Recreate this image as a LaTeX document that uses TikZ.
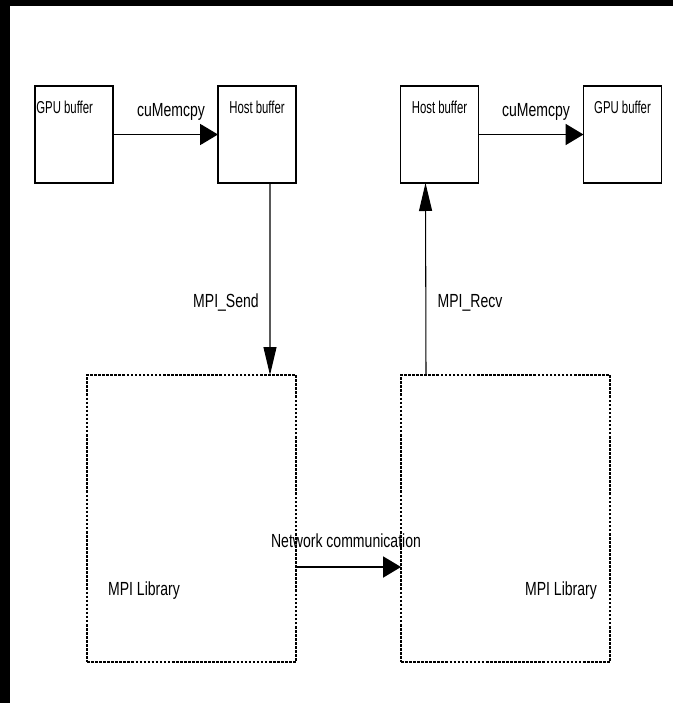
\documentclass[tikz,border=0pt]{standalone}
\usepackage{fontspec}
\setmainfont{Liberation Sans}
\newfontfamily\labelfont[FakeStretch=0.74]{Liberation Sans}
\newfontfamily\buffont[FakeStretch=0.66]{Liberation Sans}
\usetikzlibrary{arrows.meta,positioning}

\begin{document}
\begin{tikzpicture}[
  buffer/.style={draw, line width=0.8pt, minimum width=1.56cm, minimum height=1.94cm, inner sep=0pt, outer sep=0pt},
  library/.style={draw, line width=0.7pt, dash pattern=on 1.5pt off 0.8pt, minimum width=4.18cm, minimum height=5.74cm, inner sep=0pt, outer sep=0pt},
  buftext/.style={font=\buffont\fontsize{9.8}{11}\selectfont, inner sep=0pt},
  steplabel/.style={font=\labelfont\fontsize{10.8}{13}\selectfont, inner sep=0pt},
  harrow/.style={-{Triangle[length=0.36cm,width=0.42cm]}, line width=1.1pt},
  varrow/.style={-{Triangle[length=0.56cm,width=0.26cm]}, line width=0.6pt}
]
  % page with the dark frame on top and left
  \fill[black] (0,0) rectangle (13.46,-14.06);
  \fill[white] (0.2,-0.12) rectangle (13.46,-14.06);

  % sending side
  \node[buffer] (gpuA) at (1.48,-2.69) {};
  \node[buffer, right=2.1cm of gpuA] (hostA) {};
  \node[buftext, below right=0.3cm and 0.02cm of gpuA.north west] (gpuAtext) {GPU buffer};
  \node[buftext, below=0.3cm of hostA.north] (hostAtext) {Host buffer};
  \node[library] (libA) at (3.83,-10.37) {};
  \node[steplabel] (libAtext) at (2.88,-11.82) {MPI Library};

  % receiving side
  \node[buffer] (hostB) at (8.79,-2.69) {};
  \node[buffer, right=2.1cm of hostB] (gpuB) {};
  \node[buftext, below=0.3cm of hostB.north] (hostBtext) {Host buffer};
  \node[buftext, below=0.3cm of gpuB.north] (gpuBtext) {GPU buffer};
  \node[library] (libB) at (10.11,-10.37) {};
  \node[steplabel] (libBtext) at (11.22,-11.82) {MPI Library};

  % arrows and their labels
  \draw[harrow] (gpuA.east) -- (hostA.west);
  \node[steplabel] (cpyA) at (3.42,-2.24) {cuMemcpy};
  \draw[harrow] (hostB.east) -- (gpuB.west);
  \node[steplabel] (cpyB) at (10.72,-2.24) {cuMemcpy};

  \draw[varrow] ([xshift=-0.52cm]hostA.south east) -- ([xshift=-0.52cm]libA.north east);
  \node[steplabel] (send) at (4.52,-6.06) {MPI\_Send};
  \draw[varrow] ([xshift=0.5cm]libB.north west) -- ([xshift=0.5cm]hostB.south west);
  \node[steplabel] (recv) at (9.4,-6.06) {MPI\_Recv};

  \draw[harrow] ([yshift=-0.97cm]libA.east) -- ([yshift=-0.97cm]libB.west);
  \node[steplabel] (net) at (6.92,-10.82) {Network communication};
\end{tikzpicture}
\end{document}
